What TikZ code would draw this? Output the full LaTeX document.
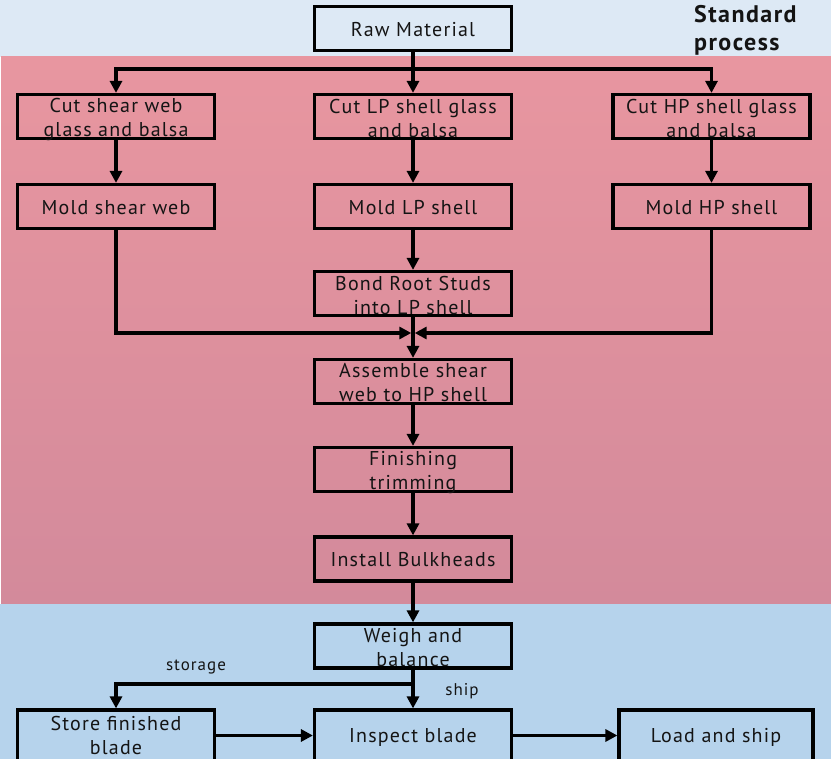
\documentclass[tikz,border=0pt]{standalone}
\usepackage{fontspec}
\setmainfont[LetterSpace=6]{PT Sans}
\usetikzlibrary{arrows.meta}
\definecolor{topblue}{RGB}{221,233,245}
\definecolor{pinktop}{RGB}{232,150,160}
\definecolor{pinkbot}{RGB}{211,138,155}
\definecolor{botblue}{RGB}{182,211,236}
\definecolor{ink}{RGB}{20,20,20}
\newcommand\stepnode[5][]{%
  \node[box,#1] (#2) at (#3) {};
  \node[txt] (#2t) at ([yshift=#4]#2.center) {#5};}
\begin{document}
\begin{tikzpicture}[x=1pt,y=-1pt,
  box/.style={draw=black,line width=3.2pt,minimum width=197pt,minimum height=44pt,inner sep=0pt},
  txt/.style={align=center,inner sep=0pt,text=ink,font=\fontsize{20}{24}\selectfont},
  conn/.style={line width=3.2pt,draw=black},
  arr/.style={conn,-{Triangle[length=12pt,width=12pt]}},
  lbl/.style={text=ink,font=\fontsize{17}{20}\selectfont,inner sep=0pt}]
\clip (0,0) rectangle (831,759);
\useasboundingbox (0,0) rectangle (831,759);
\fill[topblue] (0,0) rectangle (831,57);
\shade[top color=pinktop,bottom color=pinkbot] (1,57) rectangle (831,604);
\fill[botblue] (0,604) rectangle (831,759);
\node[anchor=north west,align=left,inner sep=0pt,text=ink,font=\fontsize{24}{28}\selectfont\bfseries] (title) at (694,5) {Standard\\process};
\stepnode{raw}{413,28.5}{-1.5pt}{Raw Material}
\stepnode{c1}{116,116.5}{-3pt}{Cut shear web\\glass and balsa}
\stepnode{c2}{413,116.5}{-2pt}{Cut LP shell glass\\and balsa}
\stepnode{c3}{711.5,116.5}{-2pt}{Cut HP shell glass\\and balsa}
\stepnode{m1}{116,206.5}{-1pt}{Mold shear web}
\stepnode{m2}{413,206.5}{-1pt}{Mold LP shell}
\stepnode{m3}{711.5,206.5}{-1pt}{Mold HP shell}
\stepnode{bond}{413,293.5}{-2pt}{Bond Root Studs\\into LP shell}
\stepnode{asm}{413,381.5}{-1.5pt}{Assemble shear\\web to HP shell}
\stepnode{fin}{413,469.5}{-3pt}{Finishing\\trimming}
\stepnode{inst}{413,559}{-1pt}{Install Bulkheads}
\stepnode{weigh}{413,646}{-2pt}{Weigh and\\balance}
\stepnode[minimum height=51pt]{store}{116,735.5}{0pt}{Store finished\\blade}
\stepnode[minimum height=51pt]{insp}{413,735.5}{-2pt}{Inspect blade}
\stepnode[minimum height=51pt,minimum width=194pt]{load}{716,735.5}{-2pt}{Load and ship}
\node[lbl] (lstor) at (196,667) {storage};
\node[lbl] (lship) at (462,691) {ship};
\coordinate (split) at (413,69);
\coordinate (mj) at (413,333);
\coordinate (wj) at (413,684);
\draw[arr] (raw.south) -- (c2.north);
\draw[arr] (split) -| (c1.north);
\draw[arr] (split) -| (c3.north);
\draw[arr] (c1.south) -- (m1.north);
\draw[arr] (c2.south) -- (m2.north);
\draw[arr] (c3.south) -- (m3.north);
\draw[arr] (m2.south) -- (bond.north);
\draw[arr] (m1.south) |- ([xshift=-1.7pt]mj);
\draw[arr] (m3.south) |- ([xshift=1.7pt]mj);
\draw[arr] (bond.south) -- (asm.north);
\draw[arr] (asm.south) -- (fin.north);
\draw[arr] (fin.south) -- (inst.north);
\draw[arr] (inst.south) -- (weigh.north);
\draw[arr] (weigh.south) -- (insp.north);
\draw[arr] (wj) -| (store.north);
\draw[arr] (store.east) -- (insp.west);
\draw[arr] (insp.east) -- (load.west);
\end{tikzpicture}
\end{document}
